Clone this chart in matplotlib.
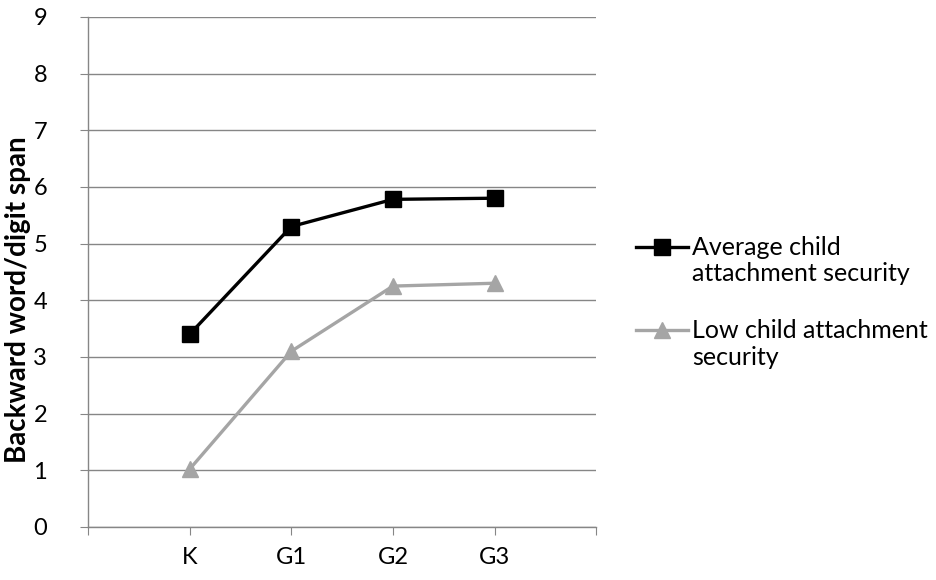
import matplotlib
matplotlib.use("Agg")
import numpy as np
import matplotlib.pyplot as plt
from matplotlib.legend_handler import HandlerLine2D

# Categories on the x axis (blank slots at both ends keep the padding)
categories = ["", "K", "G1", "G2", "G3", ""]
grades = ["K", "G1", "G2", "G3"]
average_security = [3.4, 5.3, 5.78, 5.8]
low_security = [1.02, 3.1, 4.25, 4.3]
y_ticks = list(range(0, 10))

plt.rcParams["font.family"] = ["Lato", "DejaVu Sans"]
TICK_FS = 17
LEGEND_FS = 18
LABEL_FS = 20


class TopLineHandler(HandlerLine2D):
    """Legend handle aligned with the first line of a two-line label."""

    def __init__(self, shift, **kw):
        super().__init__(**kw)
        self.shift = shift

    def create_artists(self, legend, orig_handle, xdescent, ydescent,
                       width, height, fontsize, trans):
        artists = super().create_artists(legend, orig_handle, xdescent, ydescent,
                                         width, height, fontsize, trans)
        for a in artists:
            a.set_ydata(np.asarray(a.get_ydata(), dtype=float) + self.shift)
        return artists


fig = plt.figure(figsize=(9.36, 5.8), dpi=100)
ax = fig.add_axes([0.094, 0.0914, 0.543, 0.8796])

xpos = [categories.index(g) for g in grades]
axis_grey = "#868686"

l1, = ax.plot(xpos, average_security, color="black", lw=2.4, marker="s", ms=11,
              label="Average child\nattachment security", zorder=3)
l2, = ax.plot(xpos, low_security, color="#a5a5a5", lw=2.4, marker="^", ms=11,
              label="Low child attachment\nsecurity", zorder=3)

ax.set_xlim(0, len(categories) - 1)
ax.set_ylim(0, 9)
ax.set_yticks(y_ticks)
ax.set_xticks(range(len(categories)))
ax.set_xticklabels(categories)

ax.yaxis.grid(True, color=axis_grey, lw=1)
ax.set_axisbelow(True)
for side in ("top", "right"):
    ax.spines[side].set_visible(False)
for side in ("left", "bottom"):
    ax.spines[side].set_color(axis_grey)
    ax.spines[side].set_linewidth(1)

ax.tick_params(axis="y", length=5.5, color=axis_grey, pad=24, labelsize=TICK_FS)
ax.tick_params(axis="x", length=5.5, color=axis_grey, pad=9, labelsize=TICK_FS)

ax.set_ylabel("Backward word/digit span", fontsize=LABEL_FS, fontweight="bold")
ax.yaxis.set_label_coords(-0.112, 0.445)

shift = 10.5
fig.legend(handles=[l1, l2], loc="center left", bbox_to_anchor=(0.679, 0.479),
           frameon=False, fontsize=LEGEND_FS, handlelength=2.1, handletextpad=0.15,
           labelspacing=1.35, borderpad=0, borderaxespad=0,
           handler_map={l1: TopLineHandler(shift), l2: TopLineHandler(shift)})

fig.savefig("out.png", dpi=100)
